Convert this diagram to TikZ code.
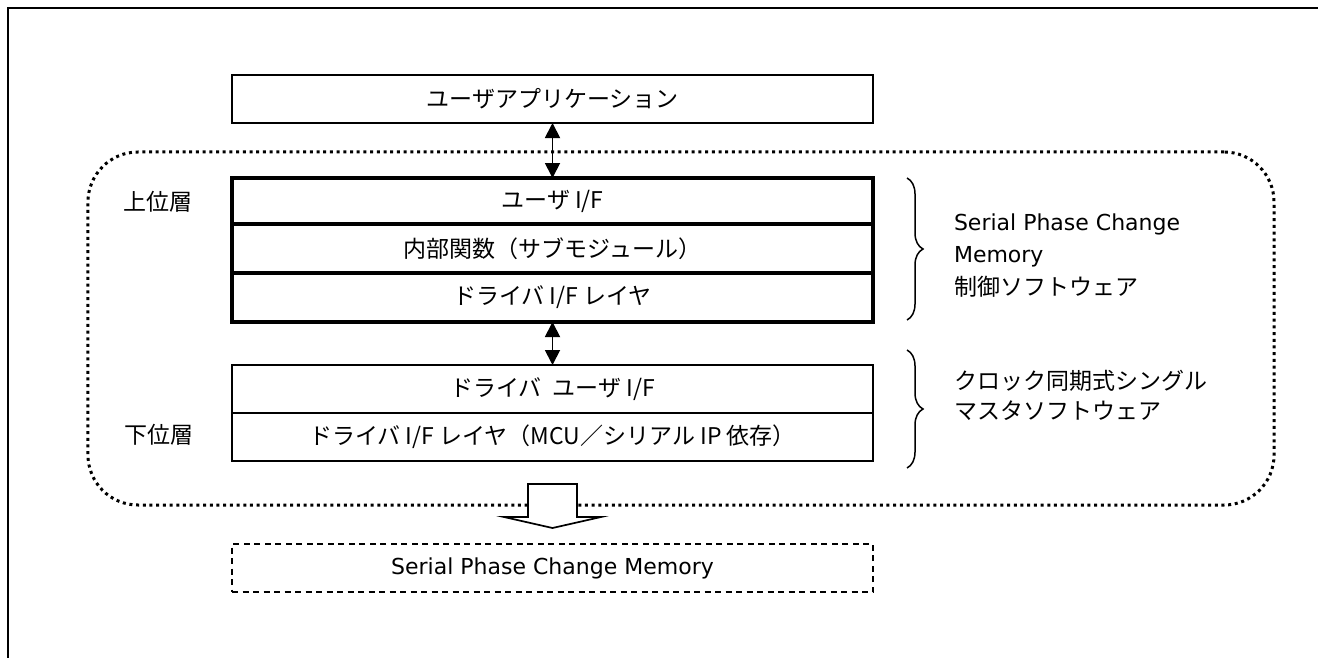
\documentclass[tikz,border=0pt]{standalone}
\usepackage{fontspec}
\setmainfont{Noto Sans CJK JP}
\newfontfamily\latinfont{DejaVu Sans}
\usetikzlibrary{arrows.meta,decorations.pathreplacing}
\begin{document}
\begin{tikzpicture}[x=1bp,y=-1bp,
  every node/.style={font=\fontsize{23bp}{28bp}\selectfont, inner sep=0pt, outer sep=0pt},
  box/.style={draw, line width=1.8bp, minimum width=641bp},
  thickbox/.style={draw, line width=3.2bp, minimum width=641bp},
  dbl/.style={line width=1.8bp, {Triangle[width=15bp,length=15bp]}-{Triangle[width=15bp,length=15bp]}},
  grp/.style={draw, line width=3bp, dash pattern=on 3bp off 3.7bp, rounded corners=50bp},
  dashbox/.style={draw, line width=1.7bp, dash pattern=on 6bp off 4.5bp, minimum width=641bp},
  bracestyle/.style={line width=1.5bp, decorate, decoration={brace, amplitude=16bp}},
  side/.style={anchor=base west},
  lat/.style={font=\fontsize{22bp}{26bp}\selectfont\latinfont}
]
\useasboundingbox (0,0) rectangle (1318,658);
% outer frame (top and left edges)
\draw[line width=2.2bp] (8,658) -- (8,8) -- (1318,8);
% dotted group
\node[grp, minimum width=1186bp, minimum height=353bp] (group) at (681,328.5) {};
% boxes
\node[box, minimum height=48bp] (app) at (552.5,99) {ユーザアプリケーション};
\node[thickbox, minimum height=46bp] (ui) at (552.5,201) {ユーザ I/F};
\node[thickbox, minimum height=49bp] (inner) at (552.5,248.5) {内部関数（サブモジュール）};
\node[thickbox, minimum height=49bp] (drv) at (552.5,297.5) {ドライバ I/F レイヤ};
\node[box, minimum height=48bp] (dui) at (552.5,389) {ドライバ\hspace{11bp}ユーザ I/F};
\node[box, minimum height=48bp] (dif) at (552.5,437) {ドライバ I/F レイヤ（MCU／シリアル IP 依存）};
\node[dashbox, minimum height=48bp, lat] (mem) at (552.5,568) {Serial Phase Change Memory};
% arrows
\draw[dbl] (app.south) -- (ui.north);
\draw[dbl] (drv.south) -- (dui.north);
% hollow arrow
\coordinate (ha) at (552.5,484);
\draw[line width=1.7bp, fill=white, line join=miter]
  ([xshift=-24.5bp]ha) -- ([xshift=24.5bp]ha) -- ([xshift=24.5bp,yshift=-33bp]ha)
  -- ([xshift=48.5bp,yshift=-33bp]ha) -- ([yshift=-44bp]ha) -- ([xshift=-48.5bp,yshift=-33bp]ha)
  -- ([xshift=-24.5bp,yshift=-33bp]ha) -- cycle;
% braces
\coordinate (b1t) at (907,178); \coordinate (b1b) at (907,320);
\coordinate (b2t) at (907,350); \coordinate (b2b) at (907,468);
\draw[bracestyle] (b1t) -- (b1b);
\draw[bracestyle] (b2t) -- (b2b);
% side labels
\node (upper) at (158,202) {上位層};
\node (lower) at (159,435) {下位層};
\node[side, lat] (t1) at (954,230) {Serial Phase Change};
\node[side, lat] (t2) at (954,262) {Memory};
\node[side] (t3) at (954,295) {制御ソフトウェア};
\node[side] (t4) at (954,389) {クロック同期式シングル};
\node[side] (t5) at (954,419) {マスタソフトウェア};
\end{tikzpicture}
\end{document}
